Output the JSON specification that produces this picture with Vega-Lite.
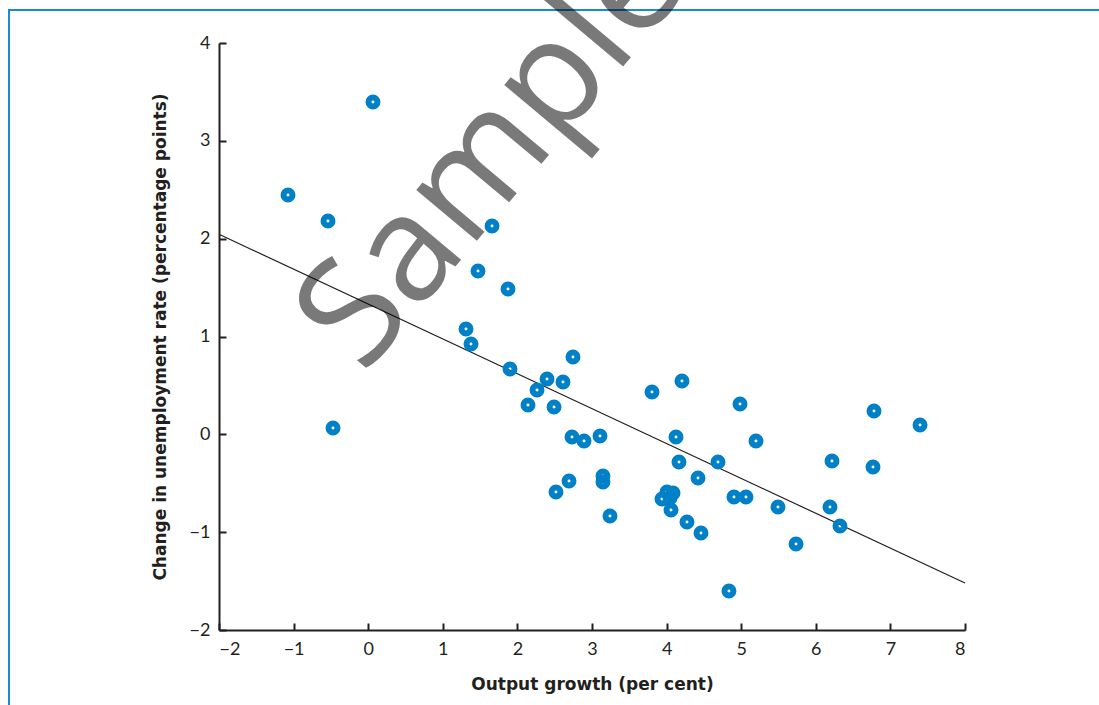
{
  "$schema": "https://vega.github.io/schema/vega-lite/v6.json",
  "width": 746,
  "height": 587,
  "autosize": "none",
  "padding": {"left": 219, "top": 43, "right": 134, "bottom": 75},
  "background": "white",
  "config": {
    "view": {"stroke": null},
    "axis": {
      "grid": false,
      "domainColor": "#231f20",
      "domainWidth": 2,
      "tickColor": "#231f20",
      "tickWidth": 2,
      "tickSize": -7,
      "labelFont": "Lato",
      "labelFontSize": 18,
      "labelColor": "#231f20",
      "titleFont": "DejaVu Sans",
      "titleFontSize": 17,
      "titleFontWeight": "bold",
      "titleColor": "#231f20"
    }
  },
  "datasets": {
    "points": [
      {"growth": -1.075, "change": 2.446},
      {"growth": -0.539, "change": 2.181},
      {"growth": 0.064, "change": 3.397},
      {"growth": -0.472, "change": 0.065},
      {"growth": 1.66, "change": 2.129},
      {"growth": 1.472, "change": 1.669},
      {"growth": 1.874, "change": 1.485},
      {"growth": 1.311, "change": 1.077},
      {"growth": 1.378, "change": 0.923},
      {"growth": 1.901, "change": 0.668},
      {"growth": 2.745, "change": 0.79},
      {"growth": 2.397, "change": 0.565},
      {"growth": 2.611, "change": 0.535},
      {"growth": 2.263, "change": 0.453},
      {"growth": 2.142, "change": 0.3},
      {"growth": 2.491, "change": 0.279},
      {"growth": 2.732, "change": -0.027},
      {"growth": 2.893, "change": -0.068},
      {"growth": 3.107, "change": -0.017},
      {"growth": 3.147, "change": -0.426},
      {"growth": 3.147, "change": -0.487},
      {"growth": 2.692, "change": -0.477},
      {"growth": 2.517, "change": -0.59},
      {"growth": 3.241, "change": -0.835},
      {"growth": 3.804, "change": 0.433},
      {"growth": 4.206, "change": 0.545},
      {"growth": 4.126, "change": -0.027},
      {"growth": 4.166, "change": -0.283},
      {"growth": 4.421, "change": -0.446},
      {"growth": 4.689, "change": -0.283},
      {"growth": 4.984, "change": 0.31},
      {"growth": 5.198, "change": -0.068},
      {"growth": 4.903, "change": -0.641},
      {"growth": 5.064, "change": -0.641},
      {"growth": 3.938, "change": -0.661},
      {"growth": 4.005, "change": -0.59},
      {"growth": 4.086, "change": -0.6},
      {"growth": 4.046, "change": -0.651},
      {"growth": 4.059, "change": -0.774},
      {"growth": 4.273, "change": -0.896},
      {"growth": 4.461, "change": -1.009},
      {"growth": 4.836, "change": -1.602},
      {"growth": 5.493, "change": -0.743},
      {"growth": 5.735, "change": -1.121},
      {"growth": 6.19, "change": -0.743},
      {"growth": 6.217, "change": -0.273},
      {"growth": 6.324, "change": -0.937},
      {"growth": 6.767, "change": -0.334},
      {"growth": 6.78, "change": 0.238},
      {"growth": 7.397, "change": 0.095}
    ],
    "fit": [
      {"growth": -2, "change": 2.045},
      {"growth": 8, "change": -1.52}
    ],
    "frame": [
      {"x1": -4.815, "x2": 11, "y1": 4.337, "y2": -3.5}
    ],
    "mark": [
      {"growth": -0.06, "change": 0.6, "label": "Sample"}
    ]
  },
  "layer": [
    {
      "data": {"name": "frame"},
      "mark": {"type": "rect", "filled": false, "stroke": "#1a8ad4", "strokeWidth": 2, "clip": false},
      "encoding": {
        "x": {
          "field": "x1", "type": "quantitative",
          "title": "Output growth (per cent)",
          "scale": {"domain": [-2, 8], "nice": false, "zero": false},
          "axis": {"values": [-2, -1, 0, 1, 2, 3, 4, 5, 6, 7, 8], "format": "d", "labelPadding": 17, "titleX": 373, "titleY": 54, "titleBaseline": "middle", "titleAlign": "center"}
        },
        "x2": {"field": "x2"},
        "y": {
          "field": "y1", "type": "quantitative",
          "title": "Change in unemployment rate (percentage points)",
          "scale": {"domain": [-2, 4], "nice": false, "zero": false},
          "axis": {"values": [-2, -1, 0, 1, 2, 3, 4], "format": "d", "labelPadding": 16, "titleX": -59, "titleY": 293.5, "titleAngle": 270, "titleBaseline": "middle", "titleAlign": "center"}
        },
        "y2": {"field": "y2"}
      }
    },
    {
      "data": {"name": "fit"},
      "mark": {"type": "line", "color": "#231f20", "strokeWidth": 1.2},
      "encoding": {
        "x": {"field": "growth", "type": "quantitative", "title": "Output growth (per cent)"},
        "y": {"field": "change", "type": "quantitative", "title": "Change in unemployment rate (percentage points)"}
      }
    },
    {
      "data": {"name": "points"},
      "mark": {"type": "point", "shape": "circle", "filled": false, "stroke": "#0080c6", "strokeWidth": 6, "size": 80, "opacity": 1},
      "encoding": {
        "x": {"field": "growth", "type": "quantitative", "title": "Output growth (per cent)"},
        "y": {"field": "change", "type": "quantitative", "title": "Change in unemployment rate (percentage points)"}
      }
    },
    {
      "data": {"name": "mark"},
      "mark": {"type": "text", "font": "Open Sans", "fontSize": 148, "angle": -50, "align": "left", "baseline": "alphabetic", "fill": "#000000", "opacity": 0.52, "clip": false},
      "encoding": {
        "x": {"field": "growth", "type": "quantitative", "title": "Output growth (per cent)"},
        "y": {"field": "change", "type": "quantitative", "title": "Change in unemployment rate (percentage points)"},
        "text": {"field": "label"}
      }
    }
  ]
}
